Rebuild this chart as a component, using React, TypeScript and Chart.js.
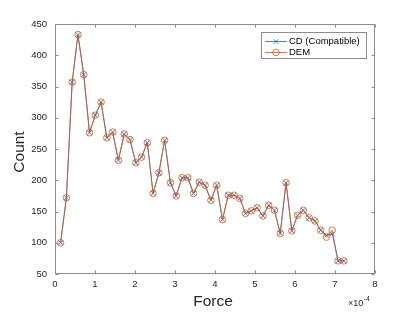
import React, { useEffect, useRef } from "react";
import { Chart, registerables } from "chart.js";

Chart.register(...registerables);

// Force values (units of 1e-4)
const forceX = [
  0.140, 0.285, 0.429, 0.574, 0.718, 0.863, 1.007, 1.152, 1.296, 1.441,
  1.585, 1.730, 1.874, 2.019, 2.163, 2.308, 2.452, 2.597, 2.741, 2.886,
  3.030, 3.175, 3.319, 3.464, 3.608, 3.753, 3.897, 4.042, 4.186, 4.331,
  4.475, 4.620, 4.764, 4.909, 5.053, 5.198, 5.342, 5.487, 5.631, 5.776,
  5.920, 6.065, 6.209, 6.354, 6.498, 6.643, 6.787, 6.932, 7.076, 7.221,
];

const cdCounts = [
  100, 172, 357, 433, 369, 276, 304, 325, 268, 277,
  232, 274, 265, 228, 237, 260, 179, 212, 264, 196,
  175, 204, 204, 179, 197, 192, 168, 192, 137, 176,
  176, 171, 147, 151, 156, 143, 160, 152, 115, 196,
  119, 144, 152, 140, 135, 120, 112, 114, 71, 71,
];

const demCounts = [
  100, 172, 357, 433, 369, 276, 304, 325, 268, 277,
  232, 274, 265, 228, 237, 260, 179, 212, 264, 196,
  175, 204, 204, 179, 197, 192, 168, 192, 137, 176,
  176, 171, 147, 151, 156, 143, 160, 152, 115, 196,
  119, 144, 152, 140, 135, 120, 109, 120, 71, 71,
];

const xTicks = [0, 1, 2, 3, 4, 5, 6, 7, 8];
const yTicks = [50, 100, 150, 200, 250, 300, 350, 400, 450];

const xTitle = "Force";
const yTitle = "Count";
const seriesNames = ["CD (Compatible)", "DEM"];
const exponentBase = "\u00d710";
const exponentPower = "-4";

const CD_COLOR = "#0072BD";
const DEM_COLOR = "#D95319";
const AXIS_COLOR = "#8c8c8c";
const TEXT_COLOR = "#262626";
const FONT = "'Liberation Sans', Arial, Helvetica, sans-serif";

const framePlugin = {
  id: "matlabFrame",
  afterDraw(chart: any) {
    const { ctx, chartArea: a, scales } = chart;
    ctx.save();
    const L = Math.round(a.left) + 0.5;
    const R = Math.round(a.right) - 0.5;
    const T = Math.round(a.top) + 0.5;
    const B = Math.round(a.bottom) - 0.5;
    ctx.strokeStyle = AXIS_COLOR;
    ctx.lineWidth = 1;
    ctx.strokeRect(L, T, R - L, B - T);
    const tl = 3;
    ctx.beginPath();
    xTicks.forEach((v) => {
      const px = Math.round(scales.x.getPixelForValue(v)) + 0.5;
      ctx.moveTo(px, B);
      ctx.lineTo(px, B - tl);
      ctx.moveTo(px, T);
      ctx.lineTo(px, T + tl);
    });
    yTicks.forEach((v) => {
      const py = Math.round(scales.y.getPixelForValue(v)) + 0.5;
      ctx.moveTo(L, py);
      ctx.lineTo(L + tl, py);
      ctx.moveTo(R, py);
      ctx.lineTo(R - tl, py);
    });
    ctx.stroke();

    // axis titles
    ctx.fillStyle = TEXT_COLOR;
    ctx.font = `15.5px ${FONT}`;
    ctx.textAlign = "center";
    ctx.textBaseline = "middle";
    ctx.fillText(xTitle, 213, 302);
    ctx.save();
    ctx.translate(19.5, 152);
    ctx.rotate(-Math.PI / 2);
    ctx.fillText(yTitle, 0, 0);
    ctx.restore();

    // exponent
    ctx.textAlign = "left";
    ctx.font = `9px ${FONT}`;
    ctx.fillText(exponentBase, 348, 303.5);
    const w = ctx.measureText(exponentBase).width;
    ctx.font = `7px ${FONT}`;
    ctx.fillText(exponentPower, 348 + w + 0.5, 299);

    // legend
    const bx = 261.5, by = 32.5, bw = 105, bh = 26;
    ctx.fillStyle = "#ffffff";
    ctx.fillRect(bx, by, bw, bh);
    ctx.strokeStyle = AXIS_COLOR;
    ctx.strokeRect(bx, by, bw, bh);
    const rows = [41, 52];
    const colors = [CD_COLOR, DEM_COLOR];
    rows.forEach((ry, i) => {
      ctx.strokeStyle = colors[i];
      ctx.lineWidth = 0.8;
      ctx.beginPath();
      ctx.moveTo(265, ry + 0.5);
      ctx.lineTo(287, ry + 0.5);
      ctx.stroke();
      const cx = 276;
      if (i === 0) {
        ctx.beginPath();
        ctx.moveTo(cx - 2.3, ry + 0.5 - 2.3);
        ctx.lineTo(cx + 2.3, ry + 0.5 + 2.3);
        ctx.moveTo(cx - 2.3, ry + 0.5 + 2.3);
        ctx.lineTo(cx + 2.3, ry + 0.5 - 2.3);
        ctx.stroke();
      } else {
        ctx.beginPath();
        ctx.arc(cx, ry + 0.5, 3.3, 0, Math.PI * 2);
        ctx.stroke();
      }
      ctx.fillStyle = "#000000";
      ctx.font = `9.5px ${FONT}`;
      ctx.textAlign = "left";
      ctx.textBaseline = "middle";
      ctx.fillText(seriesNames[i], 289, ry + 0.5);
    });
    ctx.restore();
  },
};

export default function App() {
  const ref = useRef<HTMLCanvasElement | null>(null);

  useEffect(() => {
    if (!ref.current) return;
    const chart = new Chart(ref.current, {
      type: "line",
      data: {
        datasets: [
          {
            label: seriesNames[0],
            data: forceX.map((x, i) => ({ x, y: cdCounts[i] })),
            borderColor: CD_COLOR,
            backgroundColor: "rgba(0,0,0,0)",
            borderWidth: 0.8,
            pointStyle: "crossRot",
            pointRadius: 3.3,
            pointBorderWidth: 0.8,
            pointBorderColor: CD_COLOR,
            order: 1,
            tension: 0,
          },
          {
            label: seriesNames[1],
            data: forceX.map((x, i) => ({ x, y: demCounts[i] })),
            borderColor: DEM_COLOR,
            backgroundColor: "rgba(0,0,0,0)",
            borderWidth: 0.8,
            pointStyle: "circle",
            pointRadius: 3.3,
            pointBorderWidth: 0.8,
            pointBorderColor: DEM_COLOR,
            pointBackgroundColor: "rgba(0,0,0,0)",
            order: 0,
            tension: 0,
          },
        ],
      },
      options: {
        animation: false,
        responsive: false,
        maintainAspectRatio: false,
        layout: { padding: { left: 0, right: 40, top: 24, bottom: 0 } },
        plugins: {
          legend: { display: false },
          tooltip: { enabled: false },
        },
        scales: {
          x: {
            type: "linear",
            min: 0,
            max: 8,
            grid: { display: false, drawTicks: false },
            border: { display: false },
            afterBuildTicks: (s: any) => {
              s.ticks = xTicks.map((v) => ({ value: v }));
            },
            afterFit: (s: any) => {
              s.height = 38;
            },
            ticks: {
              color: TEXT_COLOR,
              font: { size: 9.5, family: FONT },
              padding: 5,
              maxRotation: 0,
              autoSkip: false,
            },
          },
          y: {
            type: "linear",
            min: 50,
            max: 450,
            grid: { display: false, drawTicks: false },
            border: { display: false },
            afterBuildTicks: (s: any) => {
              s.ticks = yTicks.map((v) => ({ value: v }));
            },
            afterFit: (s: any) => {
              s.width = 55;
            },
            ticks: {
              color: TEXT_COLOR,
              font: { size: 9.5, family: FONT },
              padding: 8,
              autoSkip: false,
            },
          },
        },
      },
      plugins: [framePlugin],
    });
    return () => chart.destroy();
  }, []);

  return (
    <div style={{ position: "absolute", left: 0, top: 0, width: 415, height: 312, background: "#fff" }}>
      <canvas ref={ref} width={415} height={312} style={{ display: "block" }} />
    </div>
  );
}
